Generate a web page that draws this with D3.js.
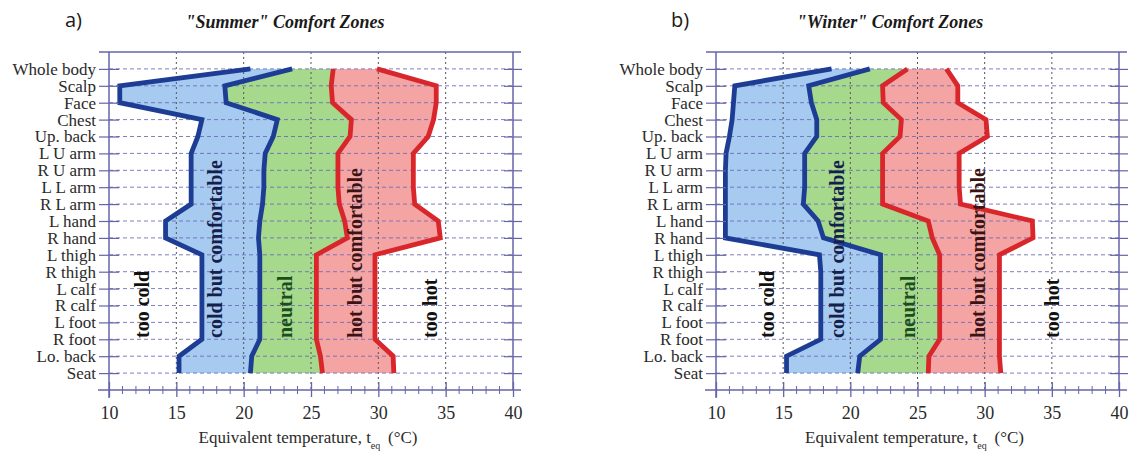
<!DOCTYPE html>
<html><head><meta charset="utf-8">
<script src="https://cdn.jsdelivr.net/npm/d3@7"></script>
<style>
body{margin:0;background:#fff;}
svg{display:block;}
</style></head>
<body>
<svg id="chart" width="1134" height="456"></svg>
<script>
const categories = ["Whole body","Scalp","Face","Chest","Up. back","L U arm","R U arm","L L arm","R L arm","L hand","R hand","L thigh","R thigh","L calf","R calf","L foot","R foot","Lo. back","Seat"];
const xTicks = [10,15,20,25,30,35,40];

// Summer boundaries (°C)
const summerColdLimit    = [20.5,10.8,10.8,16.9,16.6,16.1,16.1,16.1,16.1,14.2,14.2,16.9,16.9,16.9,16.9,16.9,16.9,15.2,15.2];
const summerNeutralLow   = [23.6,18.6,18.7,22.5,22.2,21.6,21.5,21.5,21.4,21.2,21.1,21.2,21.2,21.2,21.2,21.2,21.2,20.6,20.5];
const summerNeutralHigh  = [26.65,26.5,26.6,28.0,27.9,27.0,27.0,27.0,27.1,27.5,27.7,25.4,25.4,25.4,25.4,25.4,25.4,25.7,25.85];
const summerHotLimit     = [29.9,34.3,34.3,34.1,33.7,32.6,32.6,32.6,32.7,34.45,34.6,29.75,29.75,29.75,29.75,29.75,29.75,31.1,31.15];

// Winter boundaries (°C)
const winterColdLimit    = [18.6,11.4,11.3,11.2,11.0,10.75,10.7,10.7,10.7,10.7,10.7,17.7,17.8,17.8,17.8,17.8,17.8,15.25,15.25];
const winterNeutralLow   = [21.45,16.9,17.1,17.5,17.5,16.6,16.6,16.6,16.5,17.6,18.0,22.25,22.25,22.25,22.25,22.25,22.25,20.7,20.55];
const winterNeutralHigh  = [24.25,22.4,22.45,23.8,23.7,22.4,22.4,22.4,22.4,25.8,26.1,26.65,26.65,26.65,26.65,26.65,26.65,25.85,25.8];
const winterHotLimit     = [27.15,28.0,28.0,30.1,30.2,28.1,28.1,28.1,28.2,33.55,33.6,31.1,31.1,31.1,31.1,31.1,31.1,31.1,31.2];

const zoneNames = ["too cold","cold but comfortable","neutral","hot but comfortable","too hot"];
const summerZoneLabelX = [12.45,17.9,23.1,28.3,33.8];
const winterZoneLabelX = [13.8,19.0,24.3,29.5,35.0];

const panels = [
  {letter:"a)", title:"\"Summer\" Comfort Zones", left:109, right:513, titleX:285, letterX:65,
   b:[summerColdLimit,summerNeutralLow,summerNeutralHigh,summerHotLimit], labelX:summerZoneLabelX},
  {letter:"b)", title:"\"Winter\" Comfort Zones", left:716, right:1119, titleX:890, letterX:671,
   b:[winterColdLimit,winterNeutralLow,winterNeutralHigh,winterHotLimit], labelX:winterZoneLabelX}
];

const plotTop = 52, plotBottom = 390;
const fillColors = ["#a6caf0","#a6d98c","#f5a4a4"];
const lineColors = ["#1d3d94","#1d3d94","#d8262b","#d8262b"];
const labelColors = ["#111","#15204a","#1c4d1c","#3a1414","#111"];
const frameColor = "#6464a8";

const svg = d3.select("#chart");

panels.forEach(p => {
  const g = svg.append("g");
  const x = d3.scaleLinear().domain([10,40]).range([p.left,p.right]);
  const y = d3.scalePoint().domain(categories).range([plotTop,plotBottom]).padding(1);

  // fills
  for (let k=0;k<3;k++){
    const lo = p.b[k], hi = p.b[k+1];
    const area = d3.area()
      .x0((d,i)=>x(lo[i])).x1((d,i)=>x(hi[i]))
      .y(d=>y(d));
    g.append("path").datum(categories).attr("d",area).attr("fill",fillColors[k]);
  }

  // vertical dotted grid
  g.selectAll(".vg").data(xTicks.slice(1,-1)).join("line")
    .attr("x1",d=>x(d)).attr("x2",d=>x(d)).attr("y1",plotTop).attr("y2",plotBottom)
    .attr("stroke","#555").attr("stroke-width",1).attr("stroke-dasharray","2,3");

  // horizontal dashed grid
  g.selectAll(".hg").data(categories).join("line")
    .attr("x1",p.left).attr("x2",p.right).attr("y1",d=>y(d)).attr("y2",d=>y(d))
    .attr("stroke","#6a6ab8").attr("stroke-width",1).attr("stroke-dasharray","4,3").attr("opacity",0.85);

  // boundary lines
  for (let k=0;k<4;k++){
    const vals = p.b[k];
    const line = d3.line().x((d,i)=>x(vals[i])).y(d=>y(d));
    g.append("path").datum(categories).attr("d",line)
      .attr("fill","none").attr("stroke",lineColors[k]).attr("stroke-width",4.8)
      .attr("stroke-linejoin","miter");
  }

  // frame top
  g.append("line").attr("x1",p.left-10).attr("x2",p.right+8).attr("y1",plotTop).attr("y2",plotTop)
    .attr("stroke",frameColor).attr("stroke-width",1.5);

  // left axis
  const ya = g.append("g").attr("transform",`translate(${p.left},0)`)
    .call(d3.axisLeft(y).tickSize(10).tickPadding(3));
  ya.select(".domain").remove();
  ya.append("line").attr("x1",0).attr("x2",0).attr("y1",plotTop).attr("y2",plotBottom+8)
    .attr("stroke",frameColor).attr("stroke-width",1.5);
  ya.selectAll(".tick line").attr("x1",10).attr("x2",-10).attr("stroke",frameColor).attr("stroke-width",1.2);
  ya.selectAll(".tick text").attr("font-family","'Liberation Serif','Times New Roman',serif")
    .attr("font-size",17).attr("fill","#2a2a2a");

  // right axis
  const ra = g.append("g").attr("transform",`translate(${p.right},0)`)
    .call(d3.axisRight(y).tickSize(9).tickFormat(""));
  ra.select(".domain").remove();
  ra.append("line").attr("x1",0).attr("x2",0).attr("y1",plotTop).attr("y2",plotBottom)
    .attr("stroke",frameColor).attr("stroke-width",1.5);
  ra.selectAll(".tick line").attr("x1",-9).attr("x2",9).attr("stroke",frameColor).attr("stroke-width",1.2);

  // bottom axis: minor ticks
  const minor = d3.range(10,41,1).filter(v=>v%5!==0);
  g.selectAll(".mt").data(minor).join("line")
    .attr("x1",d=>x(d)).attr("x2",d=>x(d)).attr("y1",plotBottom-4).attr("y2",plotBottom+4)
    .attr("stroke",frameColor).attr("stroke-width",1);
  const xa = g.append("g").attr("transform",`translate(0,${plotBottom})`)
    .call(d3.axisBottom(x).tickValues(xTicks).tickSize(7).tickPadding(9).tickFormat(d3.format("d")));
  xa.select(".domain").remove();
  xa.append("line").attr("x1",p.left-11).attr("x2",p.right+8).attr("y1",0).attr("y2",0)
    .attr("stroke",frameColor).attr("stroke-width",1.5);
  xa.selectAll(".tick line").attr("y1",-8).attr("y2",7).attr("stroke",frameColor).attr("stroke-width",1.3);
  xa.selectAll(".tick text").attr("font-family","'Liberation Serif','Times New Roman',serif")
    .attr("font-size",18).attr("fill","#2a2a2a");

  // x-axis title
  const xt = g.append("text").attr("x",(p.left+p.right)/2 - 3).attr("y",443)
    .attr("text-anchor","middle").attr("font-family","'Liberation Serif','Times New Roman',serif")
    .attr("font-size",17).attr("fill","#2a2a2a");
  xt.append("tspan").text("Equivalent temperature, t");
  xt.append("tspan").attr("dy",6).attr("font-size",10).text("eq");
  xt.append("tspan").attr("dy",-6).text("\u2009 (°C)");

  // zone labels
  zoneNames.forEach((nm,i)=>{
    g.append("text")
      .attr("transform",`translate(${x(p.labelX[i])},338) rotate(-90)`)
      .attr("dy","0.35em")
      .attr("font-family","'Liberation Serif','Times New Roman',serif")
      .attr("font-weight","bold").attr("font-size",20)
      .attr("fill",labelColors[i]).text(nm);
  });

  // title & letter
  g.append("text").attr("x",p.titleX).attr("y",28).attr("text-anchor","middle")
    .attr("font-family","'Liberation Serif','Times New Roman',serif")
    .attr("font-weight","bold").attr("font-style","italic").attr("font-size",18)
    .attr("fill","#1a1a1a").text(p.title);
  g.append("text").attr("x",p.letterX).attr("y",27)
    .attr("font-family","'Open Sans','Liberation Sans',sans-serif").attr("font-size",20)
    .attr("fill","#1a1a1a").text(p.letter);
});
</script>
</body></html>
